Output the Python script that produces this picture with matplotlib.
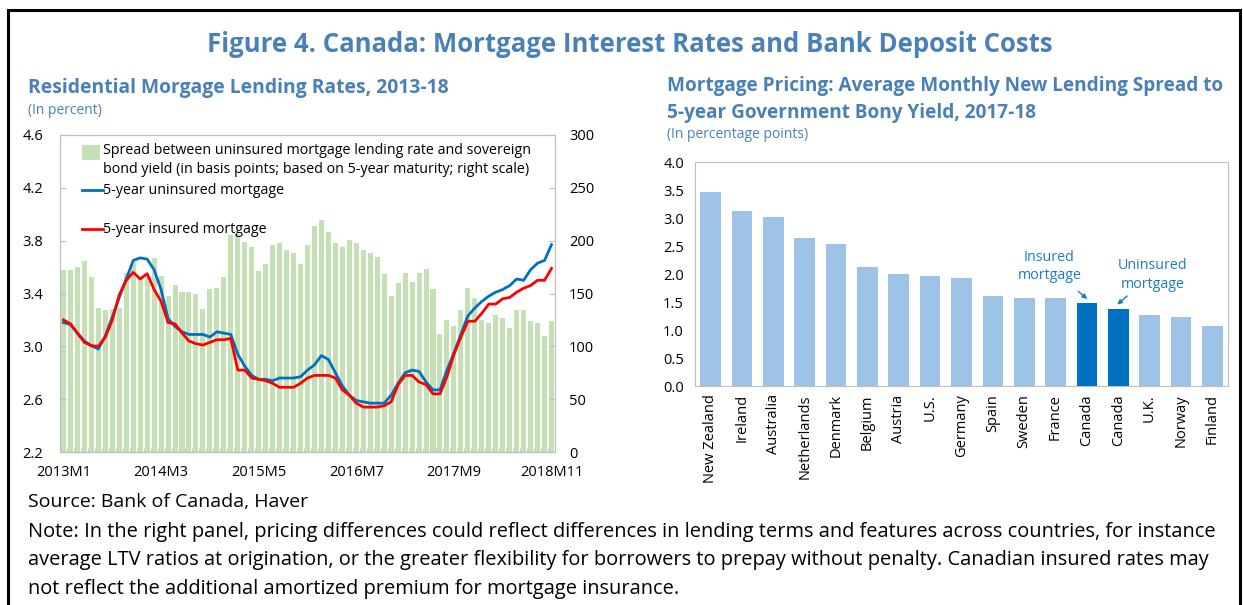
import matplotlib.pyplot as plt
from matplotlib.patches import Rectangle
import numpy as np

# --- data: left panel (monthly, 2013M1 - 2018M11) ---
spread_bp = [172, 172, 175, 181, 166, 136, 134, 135, 136, 169,
             180, 166, 166, 184, 167, 148, 158, 151, 151, 150,
             135, 154, 155, 166, 205, 206, 199, 194, 171, 178,
             196, 198, 191, 188, 178, 196, 214, 220, 208, 198,
             194, 201, 198, 191, 188, 185, 168, 148, 160, 169,
             161, 169, 173, 154, 112, 125, 119, 134, 155, 146,
             125, 122, 130, 127, 117, 134, 134, 124, 122, 110, 124]
uninsured = [3.18, 3.165, 3.10, 3.04, 3.005, 2.98, 3.08, 3.22, 3.37, 3.51,
             3.65, 3.67, 3.66, 3.58, 3.43, 3.21, 3.15, 3.11, 3.09, 3.09,
             3.09, 3.07, 3.11, 3.10, 3.09, 2.94, 2.85, 2.78, 2.75, 2.75,
             2.74, 2.76, 2.76, 2.76, 2.77, 2.82, 2.86, 2.93, 2.90, 2.80,
             2.70, 2.63, 2.59, 2.58, 2.57, 2.57, 2.57, 2.63, 2.72, 2.80,
             2.82, 2.81, 2.73, 2.67, 2.67, 2.82, 2.95, 3.09, 3.23, 3.29,
             3.34, 3.38, 3.41, 3.43, 3.46, 3.51, 3.50, 3.58, 3.63, 3.65, 3.77]
insured = [3.20, 3.17, 3.10, 3.03, 3.005, 3.00, 3.07, 3.20, 3.39, 3.50,
           3.56, 3.51, 3.55, 3.43, 3.34, 3.18, 3.17, 3.10, 3.04, 3.02,
           3.01, 3.03, 3.05, 3.05, 3.06, 2.82, 2.82, 2.76, 2.75, 2.74,
           2.72, 2.69, 2.69, 2.69, 2.72, 2.76, 2.78, 2.78, 2.78, 2.76,
           2.67, 2.63, 2.57, 2.54, 2.54, 2.54, 2.55, 2.58, 2.71, 2.78,
           2.78, 2.73, 2.71, 2.64, 2.64, 2.77, 2.94, 3.07, 3.19, 3.19,
           3.25, 3.32, 3.32, 3.36, 3.37, 3.41, 3.44, 3.46, 3.50, 3.50, 3.59]
month_labels = ["2013M1", "2014M3", "2015M5", "2016M7", "2017M9", "2018M11"]

# --- data: right panel ---
countries = ["New Zealand", "Ireland", "Australia", "Netherlands", "Denmark",
             "Belgium", "Austria", "U.S.", "Germany", "Spain", "Sweden",
             "France", "Canada", "Canada", "U.K.", "Norway", "Finland"]
spreads = [3.47, 3.12, 3.02, 2.65, 2.54, 2.12, 2.00, 1.96, 1.92, 1.60, 1.58,
           1.57, 1.48, 1.38, 1.26, 1.23, 1.08]
highlight = [12, 13]

FONT = "Open Sans"
TITLE_BLUE = "#4A80B8"
GRID_GRAY = "#BFBFBF"
plt.rcParams["font.family"] = [FONT, "DejaVu Sans"]

W, H = 1243, 605
fig = plt.figure(figsize=(W / 100, H / 100), dpi=100)


def fx(px):
    return px / W


def fy(py):
    return 1 - py / H


# outer frame
fig.patches.append(Rectangle((fx(8), fy(640)), fx(1240) - fx(8), fy(10) - fy(640),
                             transform=fig.transFigure, fill=False,
                             edgecolor="black", linewidth=2.2))

fig.text(fx(630), fy(44), "Figure 4. Canada: Mortgage Interest Rates and Bank Deposit Costs",
         ha="center", va="center", fontsize=18.5, fontweight="bold", color=TITLE_BLUE)
fig.text(fx(28), fy(88), "Residential Morgage Lending Rates, 2013-18",
         ha="left", va="center", fontsize=13.9, fontweight="bold", color=TITLE_BLUE)
fig.text(fx(28), fy(110), "(In percent)", ha="left", va="center",
         fontsize=10, color=TITLE_BLUE)
fig.text(fx(667), fy(86), "Mortgage Pricing: Average Monthly New Lending Spread to",
         ha="left", va="center", fontsize=13.7, fontweight="bold", color=TITLE_BLUE)
fig.text(fx(667), fy(113), "5-year Government Bony Yield, 2017-18",
         ha="left", va="center", fontsize=13.7, fontweight="bold", color=TITLE_BLUE)
fig.text(fx(667), fy(135), "(In percentage points)", ha="left", va="center",
         fontsize=10, color=TITLE_BLUE)

# --- left panel ---
n = len(spread_bp)
x = np.arange(n)
ax = fig.add_axes([fx(60), fy(452), fx(555) - fx(60), fy(135) - fy(452)])
ax2 = ax.twinx()
ax2.bar(x, spread_bp, width=0.72, color="#C5E0B4", zorder=1)
ax2.set_ylim(0, 300)
ax2.set_yticks(np.arange(0, 301, 50))

ax.set_zorder(ax2.get_zorder() + 1)
ax.patch.set_visible(False)
ax.plot(x, uninsured, color="#0070C0", linewidth=2)
ax.plot(x, insured, color="#FF0000", linewidth=2)
ax.set_ylim(2.2, 4.6)
ax.set_yticks(np.arange(2.2, 4.61, 0.4))
ax.yaxis.set_major_formatter(plt.FormatStrFormatter("%.1f"))
ax.set_xlim(-0.5, n - 0.5)
ax.set_xticks(np.arange(0, n, 14))
ax.set_xticklabels(month_labels)
ax.set_xticks(np.arange(0.5, n - 1, 1), minor=True)
ax.tick_params(axis="x", which="major", length=0, pad=9, labelsize=10.5)
ax.tick_params(axis="x", which="minor", length=3, direction="in", color=GRID_GRAY)
ax.tick_params(axis="y", length=4, direction="in", color=GRID_GRAY, labelsize=10.5, pad=12)
ax2.tick_params(axis="y", length=4, direction="in", color=GRID_GRAY, labelsize=10.5, pad=10)
for a in (ax, ax2):
    for s in a.spines.values():
        s.set_color(GRID_GRAY)

# hand-drawn legend (axes fraction)
ax.add_patch(Rectangle((0.044, 0.921), 0.037, 0.047, transform=ax.transAxes,
                       facecolor="#C5E0B4", edgecolor="none"))
ax.text(0.087, 0.950, "Spread between uninsured mortgage lending rate and sovereign",
        transform=ax.transAxes, va="center", fontsize=10.3)
ax.text(0.087, 0.890, "bond yield (in basis points; based on 5-year maturity; right scale)",
        transform=ax.transAxes, va="center", fontsize=10.3)
ax.plot([0.044, 0.087], [0.826, 0.826], transform=ax.transAxes, color="#0070C0", lw=2)
ax.text(0.087, 0.826, "5-year uninsured mortgage", transform=ax.transAxes,
        va="center", fontsize=10.3)
ax.plot([0.044, 0.087], [0.703, 0.703], transform=ax.transAxes, color="#FF0000", lw=2)
ax.text(0.087, 0.703, "5-year insured mortgage", transform=ax.transAxes,
        va="center", fontsize=10.3)

# --- right panel ---
bx = fig.add_axes([fx(695), fy(386), fx(1228) - fx(695), fy(162) - fy(386)])
xr = np.arange(len(countries))
colors = ["#0070C0" if i in highlight else "#9DC3E6" for i in xr]
bx.bar(xr, spreads, width=0.66, color=colors)
bx.set_xlim(-0.5, len(countries) - 0.5)
bx.set_ylim(0, 4.0)
bx.set_yticks(np.arange(0, 4.01, 0.5))
bx.yaxis.set_major_formatter(plt.FormatStrFormatter("%.1f"))
bx.set_xticks(xr)
bx.set_xticklabels(countries, rotation=90, fontsize=10.5)
bx.tick_params(axis="x", length=0, pad=6)
bx.tick_params(axis="y", length=0, pad=8, labelsize=10.5)
for s in bx.spines.values():
    s.set_color(GRID_GRAY)

ANN = "#1A7DC8"
bx.text(10.8, 2.14, "Insured\nmortgage", ha="center", va="center", fontsize=10.3,
        color=ANN, linespacing=1.3)
bx.text(14.1, 1.98, "Uninsured\nmortgage", ha="center", va="center", fontsize=10.3,
        color=ANN, linespacing=1.3)
bx.annotate("", xy=(12.08, 1.52), xytext=(11.66, 1.72),
            arrowprops=dict(arrowstyle="-|>", color=ANN, lw=1, mutation_scale=7))
bx.annotate("", xy=(12.9, 1.42), xytext=(13.35, 1.64),
            arrowprops=dict(arrowstyle="-|>", color=ANN, lw=1, mutation_scale=7))

# --- footer ---
fig.text(fx(28), fy(502), "Source: Bank of Canada, Haver", ha="left", va="center", fontsize=14)
note_lines = [
    "Note: In the right panel, pricing differences could reflect differences in lending terms "
    "and features across countries, for instance",
    "average LTV ratios at origination, or the greater flexibility for borrowers to prepay "
    "without penalty. Canadian insured rates may",
    "not reflect the additional amortized premium for mortgage insurance.",
]
for k, line in enumerate(note_lines):
    fig.text(fx(28), fy(532 + 28.5 * k), line, ha="left", va="center", fontsize=14.4)

fig.savefig("out.png", dpi=100)
